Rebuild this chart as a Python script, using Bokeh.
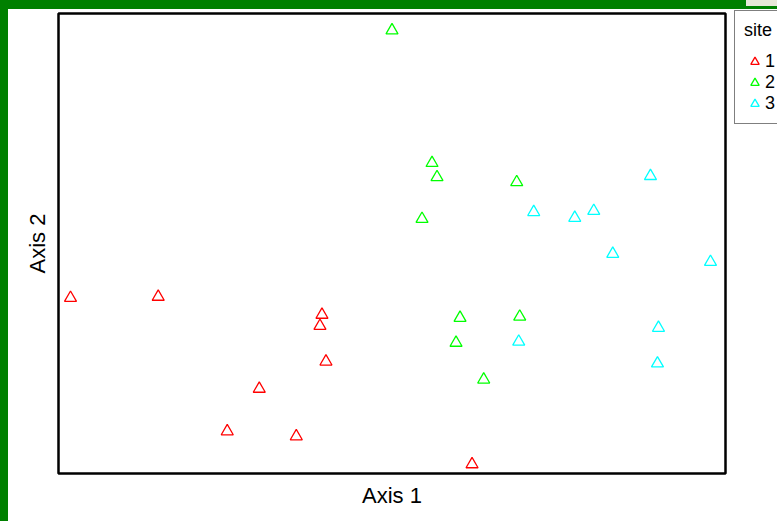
from bokeh.plotting import figure
from bokeh.models import Range1d, Legend, LegendItem, Title, Div
from bokeh.layouts import column, row
from bokeh.embed import file_html
from bokeh.resources import INLINE

# Ordination scores per site
site1_x = [-0.964, -0.701, -0.210, -0.216, -0.198, -0.398, -0.494, -0.287, 0.240]
site1_y = [-0.142, -0.139, -0.186, -0.215, -0.308, -0.379, -0.490, -0.503, -0.576]
site2_x = [0.000, 0.120, 0.135, 0.374, 0.090, 0.204, 0.383, 0.192, 0.275]
site2_y = [0.556, 0.210, 0.173, 0.160, 0.064, -0.194, -0.191, -0.259, -0.355]
site3_x = [0.775, 0.425, 0.548, 0.605, 0.662, 0.955, 0.799, 0.380, 0.796]
site3_y = [0.176, 0.082, 0.067, 0.085, -0.027, -0.048, -0.220, -0.256, -0.313]

sites = ["1", "2", "3"]
colors = ["#FF0000", "#00FF00", "#00FFFF"]

p = figure(frame_width=667, frame_height=460, output_backend="svg", toolbar_location=None,
           x_range=Range1d(-1.0, 1.0), y_range=Range1d(-0.6, 0.6),
           min_border_left=50, min_border_right=0, min_border_top=4, min_border_bottom=30,
           margin=0)
p.axis.visible = False
p.grid.visible = False
p.outline_line_color = "black"
p.outline_line_width = 2.5
p.background_fill_color = "white"
p.border_fill_color = "white"

p.add_layout(Title(text="Axis 1", align="center", text_font="Liberation Sans",
                   text_font_size="22px", text_font_style="normal",
                   text_color="black", standoff=14), "below")
p.add_layout(Title(text="Axis 2", align="center", text_font="Liberation Sans",
                   text_font_size="22px", text_font_style="normal",
                   text_color="black", standoff=18), "left")

items = []
for name, xs, ys, c in zip(sites, [site1_x, site2_x, site3_x], [site1_y, site2_y, site3_y], colors):
    r = p.scatter(xs, ys, marker="triangle", size=12, fill_color=None,
                  line_color=c, line_width=1.3)
    items.append(LegendItem(label=name, renderers=[r]))

legend = Legend(items=items, title="site", location=(9, 349),
                title_text_font="Liberation Sans", title_text_font_size="18px",
                title_text_font_style="normal", title_text_color="black", title_standoff=10,
                label_text_font="Liberation Sans", label_text_font_size="18px",
                label_text_color="black",
                glyph_width=21, glyph_height=21, label_standoff=-2, spacing=0,
                padding=9, margin=0, border_line_color="black", border_line_width=1,
                background_fill_color="white", background_fill_alpha=1.0)
p.add_layout(legend, "right")

# green window chrome on the top and left edges
top_bar = row(Div(width=746, height=9, margin=0, styles={"background-color": "#008000"}),
              column(Div(width=31, height=6, margin=0, styles={"background-color": "#E8E8D8"}),
                     Div(width=31, height=3, margin=0, styles={"background-color": "#008000"}),
                     spacing=0, margin=0),
              spacing=0, margin=0)
left_bar = Div(width=8, height=512, margin=0, styles={"background-color": "#008000"})
page = column(top_bar, row(left_bar, p, spacing=0, margin=0), spacing=0, margin=0)

open("out.html", "w").write(file_html(page, INLINE))
